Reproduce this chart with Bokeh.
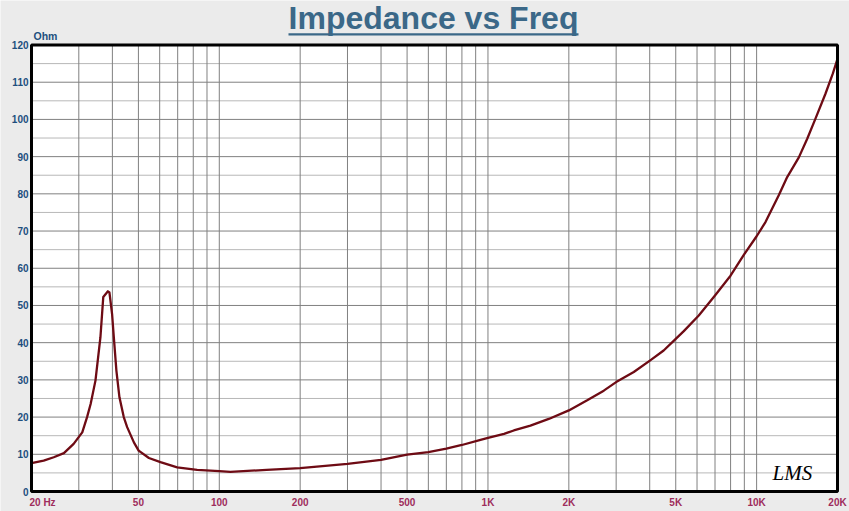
import math
from bokeh.plotting import figure
from bokeh.models import Range1d, BoxAnnotation
from bokeh.embed import file_html
from bokeh.resources import INLINE
from bokeh.core.properties import value

# --- data ---
freq = [20, 22.2, 24.2, 26.4, 28.7, 30.9, 32.2, 33.2, 34.6, 36.1, 37.0, 38.5, 39.0,
        39.9, 40.5, 41.4, 42.5, 44.1, 45.4, 48.1, 50.1, 54.7, 60.4, 69.7, 82.7, 100,
        110, 150, 200, 300, 400, 500, 600, 700, 800, 938, 1000, 1148, 1248, 1439, 1684,
        2000, 2341, 2698, 3000, 3490, 4030, 4508, 5000, 5357, 6091, 7000, 7994, 8960,
        10000, 10790, 12090, 12995, 14360, 15430, 16560, 18040, 19210, 20000]
impedance = [7.6, 8.3, 9.2, 10.3, 12.8, 15.9, 20.0, 23.5, 29.8, 41.4, 52.3, 53.8, 53.5,
             47.7, 41.4, 32.5, 25.3, 20.0, 17.3, 13.2, 11.0, 9.0, 7.9, 6.5, 5.8, 5.5,
             5.3, 5.8, 6.3, 7.4, 8.5, 9.9, 10.6, 11.5, 12.5, 13.9, 14.4, 15.5, 16.4, 17.7,
             19.5, 21.8, 24.5, 27.1, 29.4, 32.1, 35.3, 37.9, 41.0, 43.1, 47.3, 52.7, 58.0,
             63.6, 68.6, 72.4, 79.6, 84.5, 89.8, 94.8, 100.2, 106.9, 112.3, 116.3]

x_min, x_max = 20, 20000
y_min, y_max = 0, 120
x_tick_values = [50, 100, 200, 500, 1000, 2000, 5000, 10000, 20000]
x_tick_labels = ["50", "100", "200", "500", "1K", "2K", "5K", "10K", "20K"]
first_tick_text = "20  Hz"
x_grid_values = [30, 40, 50, 60, 70, 80, 90, 100, 200, 300, 400, 500, 600, 700, 800, 900,
                 1000, 2000, 3000, 4000, 5000, 6000, 7000, 8000, 9000, 10000]
y_tick_values = list(range(0, 121, 10))
y_tick_labels = [str(v) for v in y_tick_values]
y_major_grid = list(range(10, 120, 10))
y_minor_grid = list(range(5, 120, 10))

title_text = "Impedance vs Freq"
unit_text = "Ohm"
logo_text = "LMS"

BG = "#ebebeb"
TITLE_C = "#3b6888"
YLAB_C = "#1d4f7e"
XLAB_C = "#9e2d5c"
CURVE_C = "#6e0b14"
GRID_C = "#808080"
MINOR_C = "#b8b8b8"

# --- layout: canvas pixels of the plot box ---
W, H = 849, 511
BOX_L, BOX_R, BOX_T, BOX_B = 31, 837, 44.5, 491
ppd = (BOX_R - BOX_L) / math.log10(x_max / x_min)      # px per decade
upp = (y_max - y_min) / (BOX_B - BOX_T)                  # units per px
xr = Range1d(x_min * 10 ** (-BOX_L / ppd), x_max * 10 ** ((W - BOX_R) / ppd))
yr = Range1d(y_min - (H - BOX_B) * upp, y_max + BOX_T * upp)

p = figure(x_axis_type="log", x_range=xr, y_range=yr, width=W, height=H,
           min_border_left=0, min_border_right=0, min_border_top=0, min_border_bottom=0,
           x_axis_location=None, y_axis_location=None,
           output_backend="svg", toolbar_location=None,
           background_fill_color=BG, border_fill_color=BG, outline_line_color=None)
p.grid.visible = False

# plot box
p.quad(left=[x_min], right=[x_max], bottom=[y_min], top=[y_max],
       fill_color="white", line_color=None)

# grid lines
p.segment(x0=[x_min] * len(y_minor_grid), x1=[x_max] * len(y_minor_grid),
          y0=y_minor_grid, y1=y_minor_grid, line_color=MINOR_C, line_width=1)
p.segment(x0=[x_min] * len(y_major_grid), x1=[x_max] * len(y_major_grid),
          y0=y_major_grid, y1=y_major_grid, line_color=GRID_C, line_width=1)
p.segment(x0=x_grid_values, x1=x_grid_values,
          y0=[y_min] * len(x_grid_values), y1=[y_max] * len(x_grid_values),
          line_color=GRID_C, line_width=1)

# curve
p.line(freq, impedance, line_color=CURVE_C, line_width=2.3, line_join="round")

# frame outline
p.quad(left=[x_min], right=[x_max], bottom=[y_min], top=[y_max],
       fill_color=None, line_color="black", line_width=3)

FONT = value("Liberation Sans")

# y tick labels
p.text(x=[x_min] * len(y_tick_values), y=y_tick_values, text=y_tick_labels,
       x_offset=-3, text_align="right", text_baseline="middle",
       text_font=FONT, text_font_style="bold", text_font_size="10px", text_color=YLAB_C)
# x tick labels
p.text(x=x_tick_values, y=[y_min] * len(x_tick_values), text=x_tick_labels,
       y_offset=10.7, text_align="center", text_baseline="middle",
       text_font=FONT, text_font_style="bold", text_font_size="10px", text_color=XLAB_C)
p.text(x=[x_min], y=[y_min], text=[first_tick_text],
       x_offset=-2, y_offset=10.7, text_align="left", text_baseline="middle",
       text_font=FONT, text_font_style="bold", text_font_size="10px", text_color=XLAB_C)
# unit label
p.text(x=[x_min], y=[y_max], text=[unit_text],
       x_offset=2, y_offset=-8.8, text_align="left", text_baseline="middle",
       text_font=FONT, text_font_style="bold", text_font_size="10.5px", text_color=YLAB_C)
# title
p.text(x=[math.sqrt(x_min * x_max)], y=[y_max], text=[title_text],
       x_offset=-1, y_offset=-27.5, text_align="center", text_baseline="middle",
       text_font=FONT, text_font_style="bold", text_font_size="32px", text_color=TITLE_C)
# title underline (screen units from the canvas bottom-left)
p.add_layout(BoxAnnotation(left=288, right=578, bottom=H - 35, top=H - 32.8,
                           left_units="screen", right_units="screen",
                           bottom_units="screen", top_units="screen",
                           fill_color=TITLE_C, fill_alpha=1, line_color=None))
# logo
p.text(x=[11460], y=[5.1], text=[logo_text], text_align="left", text_baseline="middle",
       text_font=value("Liberation Serif"), text_font_style="italic",
       text_font_size="21px", text_color="black")

open("out.html", "w").write(file_html(p, INLINE))
